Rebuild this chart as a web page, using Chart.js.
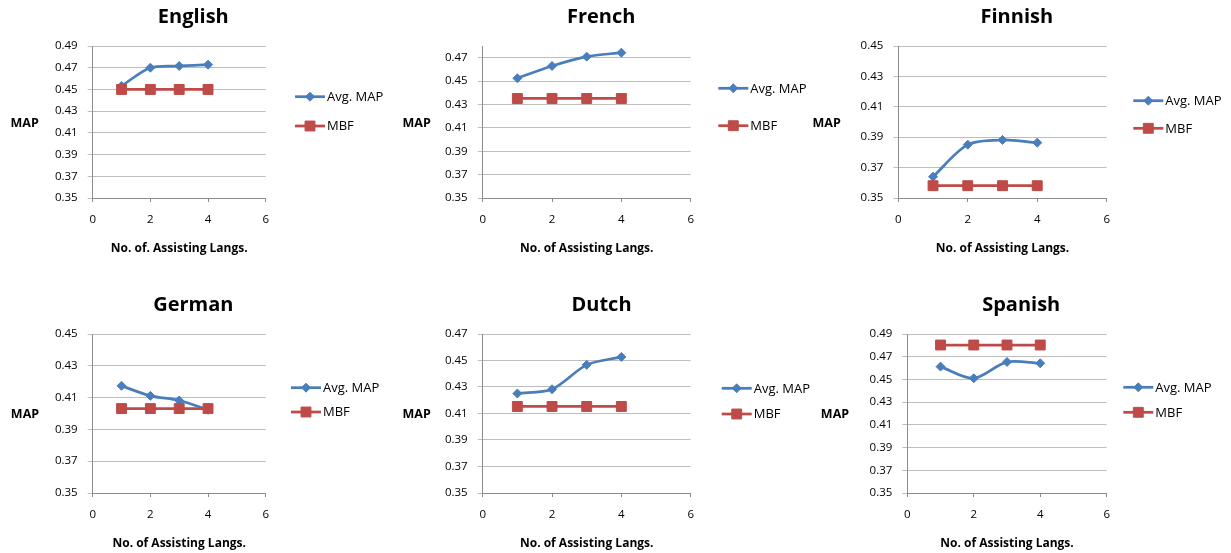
<!DOCTYPE html>
<html>
<head>
<meta charset="utf-8">
<script src="https://cdn.jsdelivr.net/npm/chart.js@4.4.1/dist/chart.umd.min.js"></script>
<style>
html, body { margin: 0; padding: 0; background: #ffffff; width: 1231px; height: 553px; overflow: hidden; }
.panel { position: absolute; }
.panel canvas { display: block; }
</style>
</head>
<body>
<div class="panel" id="p0"><canvas id="c0"></canvas></div>
<div class="panel" id="p1"><canvas id="c1"></canvas></div>
<div class="panel" id="p2"><canvas id="c2"></canvas></div>
<div class="panel" id="p3"><canvas id="c3"></canvas></div>
<div class="panel" id="p4"><canvas id="c4"></canvas></div>
<div class="panel" id="p5"><canvas id="c5"></canvas></div>
<script>
// ---------------- DATA ----------------
const languages = ['English', 'French', 'Finnish', 'German', 'Dutch', 'Spanish'];
const seriesNames = ['Avg. MAP', 'MBF'];
const yAxisTitle = 'MAP';
const xAxisTitles = ['No. of. Assisting Langs.', 'No. of Assisting Langs.', 'No. of Assisting Langs.',
                     'No. of Assisting Langs.', 'No. of Assisting Langs.', 'No. of Assisting Langs.'];
const xValues = [1, 2, 3, 4];
const xTicks = [0, 2, 4, 6];

const avgEnglish = [0.4532, 0.4700, 0.4716, 0.4728];
const mbfEnglish = [0.4500, 0.4500, 0.4500, 0.4500];
const avgFrench  = [0.4524, 0.4629, 0.4709, 0.4743];
const mbfFrench  = [0.4351, 0.4351, 0.4351, 0.4351];
const avgFinnish = [0.3640, 0.3851, 0.3882, 0.3864];
const mbfFinnish = [0.3581, 0.3581, 0.3581, 0.3581];
const avgGerman  = [0.4174, 0.4111, 0.4082, 0.4023];
const mbfGerman  = [0.4031, 0.4031, 0.4031, 0.4031];
const avgDutch   = [0.4251, 0.4283, 0.4467, 0.4527];
const mbfDutch   = [0.4153, 0.4153, 0.4153, 0.4153];
const avgSpanish = [0.4613, 0.4510, 0.4654, 0.4642];
const mbfSpanish = [0.4803, 0.4803, 0.4803, 0.4803];

const yTicksEnglish = [0.35, 0.37, 0.39, 0.41, 0.43, 0.45, 0.47, 0.49];
const yTicksFrench  = [0.35, 0.37, 0.39, 0.41, 0.43, 0.45, 0.47];
const yTicksFinnish = [0.35, 0.37, 0.39, 0.41, 0.43, 0.45];
const yTicksGerman  = [0.35, 0.37, 0.39, 0.41, 0.43, 0.45];
const yTicksDutch   = [0.35, 0.37, 0.39, 0.41, 0.43, 0.45, 0.47];
const yTicksSpanish = [0.35, 0.37, 0.39, 0.41, 0.43, 0.45, 0.47, 0.49];
const yAxisMin = [0.35, 0.35, 0.35, 0.35, 0.35, 0.35];
const yAxisMax = [0.49, 0.48, 0.45, 0.45, 0.47, 0.49];

const avgSeries = [avgEnglish, avgFrench, avgFinnish, avgGerman, avgDutch, avgSpanish];
const mbfSeries = [mbfEnglish, mbfFrench, mbfFinnish, mbfGerman, mbfDutch, mbfSpanish];
const yTickSets = [yTicksEnglish, yTicksFrench, yTicksFinnish, yTicksGerman, yTicksDutch, yTicksSpanish];

// ---------------- LAYOUT / STYLE ----------------
const BLUE = '#4A7EBB';
const RED = '#BE4B48';
const GRID = '#BDBDBD';
const AXIS = '#8C8C8C';
const FONT = "'Open Sans', 'DejaVu Sans', sans-serif";

const panels = [
  { left: 0,   top: 0,   w: 400, h: 257, padL: 47.7, padR: 134.3, titleX: 193.3, mapX: 24.7, legX: 295,   legY: [96.7, 126] },
  { left: 400, top: 0,   w: 410, h: 257, padL: 37.7, padR: 119.3, titleX: 201.2, mapX: 16.7, legX: 318.3, legY: [88.3, 125.7] },
  { left: 810, top: 0,   w: 421, h: 257, padL: 43.3, padR: 124.3, titleX: 206.8, mapX: 16.7, legX: 323.3, legY: [100.7, 128.3] },
  { left: 0,   top: 288, w: 400, h: 264, padL: 47.7, padR: 134.3, titleX: 193.3, mapX: 25,   legX: 291,   legY: [99.7, 124] },
  { left: 400, top: 288, w: 410, h: 264, padL: 37.7, padR: 119.3, titleX: 201.5, mapX: 16.7, legX: 321.7, legY: [100.3, 126] },
  { left: 810, top: 288, w: 421, h: 264, padL: 52.3, padR: 124.3, titleX: 211.2, mapX: 25,   legX: 313.3, legY: [99.3, 124.3] }
];

function drawMarker(ctx, style, x, y, r, color) {
  ctx.save();
  ctx.fillStyle = color;
  ctx.strokeStyle = color;
  ctx.lineWidth = 1;
  ctx.beginPath();
  if (style === 'rectRot') {
    ctx.moveTo(x, y - r); ctx.lineTo(x + r, y); ctx.lineTo(x, y + r); ctx.lineTo(x - r, y); ctx.closePath();
  } else {
    const s = Math.SQRT1_2 * r;
    ctx.rect(x - s, y - s, 2 * s, 2 * s);
  }
  ctx.fill();
  ctx.stroke();
  ctx.restore();
}

const decoPlugin = {
  id: 'deco',
  afterDraw(chart, args, opts) {
    const ctx = chart.ctx;
    const ca = chart.chartArea;
    ctx.save();
    // title
    ctx.fillStyle = '#000';
    ctx.textAlign = 'center';
    ctx.textBaseline = 'alphabetic';
    ctx.font = 'bold 20px ' + FONT;
    ctx.fillText(opts.title, opts.titleX, 22.8);
    // y axis title (horizontal)
    ctx.font = 'bold 12.5px ' + FONT;
    ctx.fillText(opts.yTitle, opts.mapX, (ca.top + ca.bottom) / 2 + 4.5);
    // legend
    ctx.textAlign = 'left';
    ctx.textBaseline = 'middle';
    ctx.font = '13px ' + FONT;
    chart.data.datasets.forEach((ds, i) => {
      const y = opts.legY[i];
      const x0 = opts.legX;
      ctx.strokeStyle = ds.borderColor;
      ctx.lineWidth = ds.borderWidth;
      ctx.beginPath();
      ctx.moveTo(x0, y);
      ctx.lineTo(x0 + 30, y);
      ctx.stroke();
      drawMarker(ctx, ds.pointStyle, x0 + 15, y, ds.pointRadius, ds.backgroundColor);
      ctx.fillStyle = '#000';
      ctx.fillText(ds.label, x0 + 32, y + 0.5);
    });
    ctx.restore();
  }
};

function build() {
  panels.forEach((p, k) => {
    const div = document.getElementById('p' + k);
    div.style.left = p.left + 'px';
    div.style.top = p.top + 'px';
    const canvas = document.getElementById('c' + k);
    canvas.width = p.w;
    canvas.height = p.h;
    canvas.style.width = p.w + 'px';
    canvas.style.height = p.h + 'px';
    const ticksY = yTickSets[k];
    new Chart(canvas, {
      type: 'line',
      data: {
        datasets: [
          {
            label: seriesNames[0],
            data: xValues.map((x, i) => ({ x: x, y: avgSeries[k][i] })),
            borderColor: BLUE, backgroundColor: BLUE,
            pointStyle: 'rectRot', pointRadius: 4.5, pointBorderWidth: 1,
            pointBackgroundColor: BLUE, pointBorderColor: BLUE,
            borderWidth: 2.75, tension: 0.3, order: 2, fill: false
          },
          {
            label: seriesNames[1],
            data: xValues.map((x, i) => ({ x: x, y: mbfSeries[k][i] })),
            borderColor: RED, backgroundColor: RED,
            pointStyle: 'rect', pointRadius: 7, pointBorderWidth: 1,
            pointBackgroundColor: RED, pointBorderColor: RED,
            borderWidth: 2.75, tension: 0, order: 1, fill: false
          }
        ]
      },
      options: {
        responsive: false,
        animation: false,
        events: [],
        layout: { padding: { left: p.padL, right: p.padR, top: 46, bottom: 0 } },
        plugins: {
          legend: { display: false },
          title: { display: false },
          tooltip: { enabled: false },
          deco: { title: languages[k], yTitle: yAxisTitle, titleX: p.titleX, mapX: p.mapX, legX: p.legX, legY: p.legY }
        },
        scales: {
          x: {
            type: 'linear',
            min: 0, max: 6,
            afterBuildTicks: (s) => { s.ticks = xTicks.map(v => ({ value: v })); },
            afterFit: (s) => { s.height = 59; },
            grid: { drawOnChartArea: false, drawTicks: true, tickLength: 4, color: AXIS, lineWidth: 1 },
            border: { color: AXIS, width: 1 },
            ticks: { color: '#000', font: { family: FONT, size: 11.5 }, padding: 11, maxRotation: 0,
                     callback: (v) => String(v) },
            title: { display: true, text: xAxisTitles[k], color: '#000',
                     font: { family: FONT, size: 12, weight: 'bold' }, padding: { top: 0, bottom: 1 } }
          },
          y: {
            type: 'linear',
            min: yAxisMin[k], max: yAxisMax[k],
            bounds: 'data',
            afterBuildTicks: (s) => { s.ticks = ticksY.map(v => ({ value: v })); },
            afterFit: (s) => { s.width = 45; },
            grid: { color: GRID, lineWidth: 1, drawTicks: true, tickLength: 5, tickColor: GRID },
            border: { color: AXIS, width: 1 },
            ticks: { color: '#000', font: { family: FONT, size: 11.5 }, padding: 10,
                     callback: (v) => Number(v).toFixed(2) }
          }
        }
      },
      plugins: [decoPlugin]
    });
  });
}

const fontLoads = [
  document.fonts.load("bold 20px 'Open Sans'"),
  document.fonts.load("11px 'Open Sans'"),
  document.fonts.load("bold 12px 'Open Sans'")
];
Promise.all(fontLoads).then(build, build);
</script>
</body>
</html>
